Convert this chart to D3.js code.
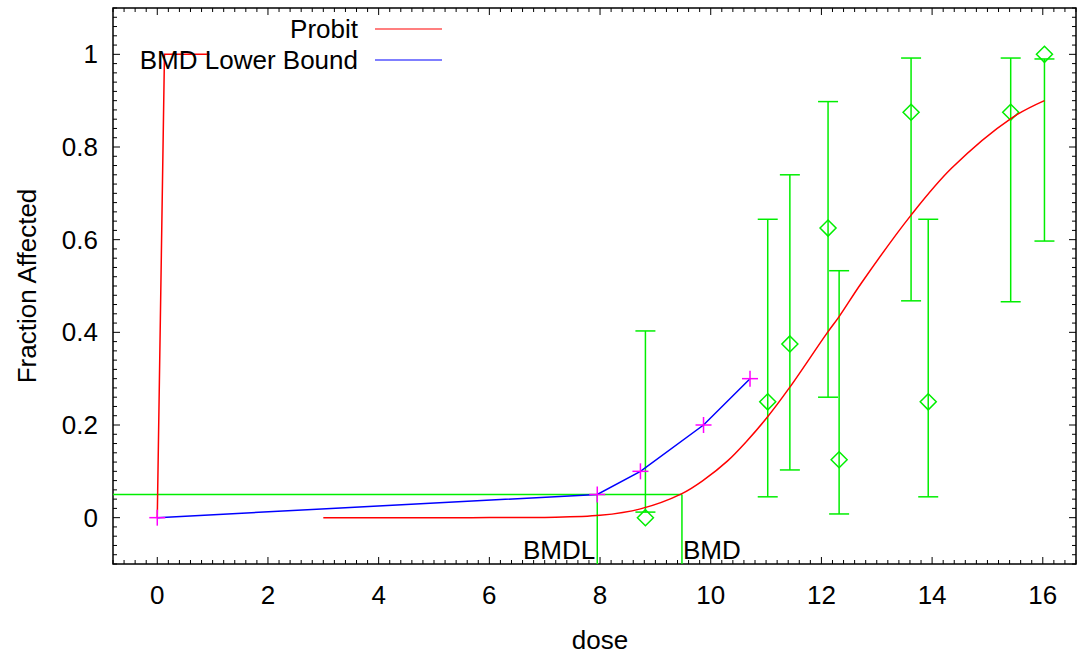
<!DOCTYPE html>
<html lang="en">
    <head>
        <meta charset="UTF-8" />
        <title>Probit BMD</title>
        <style>
            body {
                margin: 0;
                background: #fff;
            }
            .label {
                font: 26px "Liberation Sans", Arial, sans-serif;
                fill: #000;
            }
            .frame {
                fill: none;
                stroke: #000;
                stroke-width: 1.5px;
            }
            .tick {
                stroke: #000;
                stroke-width: 1px;
            }
        </style>
    </head>
    <body>
        <script src="https://cdnjs.cloudflare.com/ajax/libs/d3/7.9.0/d3.min.js"></script>
        <svg width="1078" height="654"></svg>
        <script>
            // observed dose groups (diamonds + error bars)
            const doses = [8.82, 11.03, 11.43, 12.12, 12.32, 13.62, 13.93, 15.42, 16.03];
            const fractions = [0, 0.25, 0.375, 0.625, 0.125, 0.875, 0.25, 0.875, 1.0];
            const lowerCI = [0.012, 0.045, 0.103, 0.26, 0.008, 0.468, 0.045, 0.466, 0.597];
            const upperCI = [0.403, 0.644, 0.74, 0.898, 0.533, 0.992, 0.644, 0.992, 0.99];

            // probit fit
            const probitX = [3, 5, 6, 7, 8, 8.73, 9.48, 9.87, 10.3, 10.65, 11.01, 11.42, 12.11, 12.32, 12.72, 13.62, 14.35, 15.43, 16.03];
            const probitY = [0, 0, 0.0001, 0.0006, 0.005, 0.019, 0.052, 0.081, 0.122, 0.165, 0.215, 0.28, 0.4, 0.434, 0.506, 0.653, 0.754, 0.862, 0.9];
            const stubX = [0, 0.13, 0.94];
            const stubY = [0, 1, 1];

            // BMD lower bound curve
            const lowerX = [0, 7.95, 8.73, 9.87, 10.71];
            const lowerY = [0, 0.05, 0.1, 0.2, 0.3];

            const bmd = 9.48;
            const bmdl = 7.95;
            const bmr = 0.05;

            const xTicks = [0, 2, 4, 6, 8, 10, 12, 14, 16];
            const yTicks = [0, 0.2, 0.4, 0.6, 0.8, 1];

            const plot = { left: 113, top: 8, right: 1076, bottom: 564 };
            const x = d3.scaleLinear().domain([-0.8, 16.6]).range([plot.left, plot.right]);
            const y = d3.scaleLinear().domain([-0.1, 1.1]).range([plot.bottom, plot.top]);

            const svg = d3.select("svg");
            const green = "#00ee00";

            // ticks on all four sides, inward
            const xMinor = d3.range(-0.8, 16.61, 0.2).map((v) => +v.toFixed(1));
            const yMinor = d3.range(-0.1, 1.101, 0.02).map((v) => +v.toFixed(2));
            const isMajorX = (v) => Math.abs(v / 2 - Math.round(v / 2)) < 1e-6;
            const isMajorY = (v) => Math.abs(v * 5 - Math.round(v * 5)) < 1e-6;
            const ticks = svg.append("g");
            xMinor.forEach((v) => {
                const len = isMajorX(v) ? 7 : 4;
                ticks.append("line").attr("class", "tick")
                    .attr("x1", x(v)).attr("x2", x(v)).attr("y1", plot.bottom).attr("y2", plot.bottom - len);
                ticks.append("line").attr("class", "tick")
                    .attr("x1", x(v)).attr("x2", x(v)).attr("y1", plot.top).attr("y2", plot.top + len);
            });
            yMinor.forEach((v) => {
                const len = isMajorY(v) ? 7 : 4;
                ticks.append("line").attr("class", "tick")
                    .attr("x1", plot.left).attr("x2", plot.left + len).attr("y1", y(v)).attr("y2", y(v));
                ticks.append("line").attr("class", "tick")
                    .attr("x1", plot.right).attr("x2", plot.right - len).attr("y1", y(v)).attr("y2", y(v));
            });

            svg.append("rect").attr("class", "frame")
                .attr("x", plot.left).attr("y", plot.top)
                .attr("width", plot.right - plot.left).attr("height", plot.bottom - plot.top);

            // tick labels
            svg.selectAll(".xlab").data(xTicks).enter().append("text")
                .attr("class", "label").attr("x", (d) => x(d)).attr("y", 604)
                .attr("text-anchor", "middle").text((d) => d);
            svg.selectAll(".ylab").data(yTicks).enter().append("text")
                .attr("class", "label").attr("x", 98).attr("y", (d) => y(d) + 9)
                .attr("text-anchor", "end").text((d) => d);

            svg.append("text").attr("class", "label").attr("x", 600).attr("y", 649)
                .attr("text-anchor", "middle").text("dose");
            svg.append("text").attr("class", "label")
                .attr("transform", "translate(36," + (plot.top + plot.bottom) / 2 + ") rotate(-90)")
                .attr("text-anchor", "middle").text("Fraction Affected");

            // BMR / BMD / BMDL guide lines
            const guide = svg.append("g").attr("stroke", green).attr("stroke-width", 1.5).attr("fill", "none");
            guide.append("line").attr("x1", plot.left).attr("x2", x(bmd)).attr("y1", y(bmr)).attr("y2", y(bmr));
            guide.append("line").attr("x1", x(bmdl)).attr("x2", x(bmdl)).attr("y1", y(bmr)).attr("y2", plot.bottom);
            guide.append("line").attr("x1", x(bmd)).attr("x2", x(bmd)).attr("y1", y(bmr)).attr("y2", plot.bottom);
            svg.append("text").attr("class", "label").attr("x", x(bmdl) - 2).attr("y", 559)
                .attr("text-anchor", "end").text("BMDL");
            svg.append("text").attr("class", "label").attr("x", x(bmd) + 1).attr("y", 559)
                .attr("text-anchor", "start").text("BMD");

            // error bars + diamonds
            const obs = doses.map((d, i) => ({ d, f: fractions[i], lo: lowerCI[i], hi: upperCI[i] }));
            const bars = svg.append("g").attr("stroke", green).attr("stroke-width", 1.5).attr("fill", "none");
            obs.forEach((o) => {
                bars.append("line").attr("x1", x(o.d)).attr("x2", x(o.d)).attr("y1", y(o.lo)).attr("y2", y(o.hi));
                bars.append("line").attr("x1", x(o.d) - 10).attr("x2", x(o.d) + 10).attr("y1", y(o.lo)).attr("y2", y(o.lo));
                bars.append("line").attr("x1", x(o.d) - 10).attr("x2", x(o.d) + 10).attr("y1", y(o.hi)).attr("y2", y(o.hi));
                const cx = x(o.d), cy = y(o.f), r = 8;
                bars.append("path").attr("d", `M${cx},${cy - r}L${cx + r},${cy}L${cx},${cy + r}L${cx - r},${cy}Z`);
            });

            const line = d3.line().x((p) => x(p[0])).y((p) => y(p[1]));

            // probit curve
            svg.append("path")
                .attr("d", line.curve(d3.curveCatmullRom.alpha(0.5))(probitX.map((v, i) => [v, probitY[i]])))
                .attr("fill", "none").attr("stroke", "#ff0000").attr("stroke-width", 1.5);
            svg.append("path")
                .attr("d", line.curve(d3.curveLinear)(stubX.map((v, i) => [v, stubY[i]])))
                .attr("fill", "none").attr("stroke", "#ff0000").attr("stroke-width", 1.5);

            // lower bound curve + crosses
            const lowerPts = lowerX.map((v, i) => [v, lowerY[i]]);
            svg.append("path")
                .attr("d", line.curve(d3.curveLinear)(lowerPts))
                .attr("fill", "none").attr("stroke", "#0000ff").attr("stroke-width", 1.5);
            const cross = svg.append("g").attr("stroke", "#ff00ff").attr("stroke-width", 1.5);
            lowerPts.forEach((p) => {
                const cx = x(p[0]), cy = y(p[1]);
                cross.append("line").attr("x1", cx - 8).attr("x2", cx + 8).attr("y1", cy).attr("y2", cy);
                cross.append("line").attr("x1", cx).attr("x2", cx).attr("y1", cy - 8).attr("y2", cy + 8);
            });

            // legend
            const legend = [
                { name: "Probit", color: "#ff0000", yy: 29 },
                { name: "BMD Lower Bound", color: "#0000ff", yy: 60 },
            ];
            legend.forEach((l) => {
                svg.append("text").attr("class", "label").attr("x", 358).attr("y", l.yy + 9)
                    .attr("text-anchor", "end").text(l.name);
                svg.append("line").attr("x1", 375).attr("x2", 442).attr("y1", l.yy).attr("y2", l.yy)
                    .attr("stroke", l.color).attr("stroke-width", 1.2);
            });
        </script>
    </body>
</html>
